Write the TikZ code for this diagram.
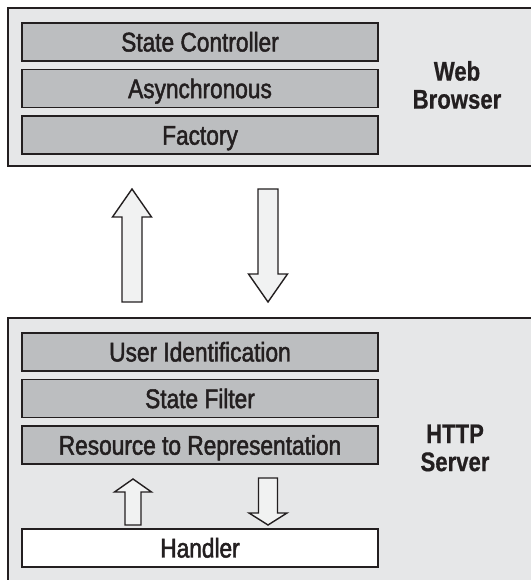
\documentclass[tikz,border=0pt]{standalone}
\usepackage{fontspec}
\setmainfont{Liberation Sans}[FakeStretch=0.84, FakeBold=1.8, BoldFeatures={FakeStretch=0.82, FakeBold=0.6}]
\usepackage{tikz}
\usetikzlibrary{calc, positioning}
\definecolor{tiergray}{HTML}{E6E7E8}
\definecolor{layergray}{HTML}{BCBEC0}
\definecolor{arrowgray}{HTML}{F1F2F2}
\definecolor{inkdark}{HTML}{231F20}

% block arrow between two named coordinates: shaft half width, head half width, head length
\newcommand{\blockarrow}[5]{%
  \draw[blockarrow] let \p1=(#1), \p2=(#2), \n1={sign(\y2-\y1)} in
    (\x1-#3,\y1) -- (\x1-#3,\y2-\n1*#5) -- (\x1-#4,\y2-\n1*#5) -- (\x1,\y2)
    -- (\x1+#4,\y2-\n1*#5) -- (\x1+#3,\y2-\n1*#5) -- (\x1+#3,\y1) -- cycle;}

\begin{document}
\begin{tikzpicture}[x=1pt, y=1pt, inkdark]

\tikzset{
  tier/.style={draw=inkdark, fill=tiergray, line width=1.6pt, anchor=north west, inner sep=0pt},
  layer/.style={draw=inkdark, fill=layergray, line width=1.6pt, minimum width=356, minimum height=38,
    inner sep=0pt, text height=19pt, text depth=0pt, font=\fontsize{27}{29}\selectfont},
  tierlabel/.style={align=center, font=\fontsize{27}{28}\selectfont\bfseries},
  blockarrow/.style={draw=inkdark, fill=arrowgray, line width=1.4pt, line join=miter}
}

\useasboundingbox (0,0) rectangle (530,580);

% Web browser tier
\node[tier, minimum width=530, minimum height=158] (browser) at (7,573) {};
\node[layer] (ctrl) at (200,538) {State Controller};
\node[layer, below=7pt of ctrl] (async) {Asynchronous};
\node[layer, below=7pt of async] (factory) {Factory};
\node[tierlabel] (browserlbl) at (457,495) {Web\\Browser};

% HTTP server tier
\node[tier, minimum width=530, minimum height=272] (server) at (7,263) {};
\node[layer] (userid) at (200,228) {User Identification};
\node[layer, below=7pt of userid] (filter) {State Filter};
\node[layer, below=7pt of filter] (resource) {Resource to Representation};
\node[layer, fill=white] (handler) at (200,32) {Handler};
\node[tierlabel] (serverlbl) at (455,132) {HTTP\\Server};

% Arrow ends
\coordinate (request-foot) at (132,278);
\coordinate (request-tip) at (132,391);
\coordinate (response-foot) at (268,391);
\coordinate (response-tip) at (268,278);
\coordinate (handler-up-foot) at (133,55);
\coordinate (handler-up-tip) at (133,101);
\coordinate (handler-down-foot) at (268,102);
\coordinate (handler-down-tip) at (268,55);

% Block arrows
\blockarrow{request-foot}{request-tip}{10}{19.5}{28}
\blockarrow{response-foot}{response-tip}{10}{19.5}{28}
\blockarrow{handler-up-foot}{handler-up-tip}{8}{18.5}{13}
\blockarrow{handler-down-foot}{handler-down-tip}{9.5}{19}{12}

\end{tikzpicture}
\end{document}
